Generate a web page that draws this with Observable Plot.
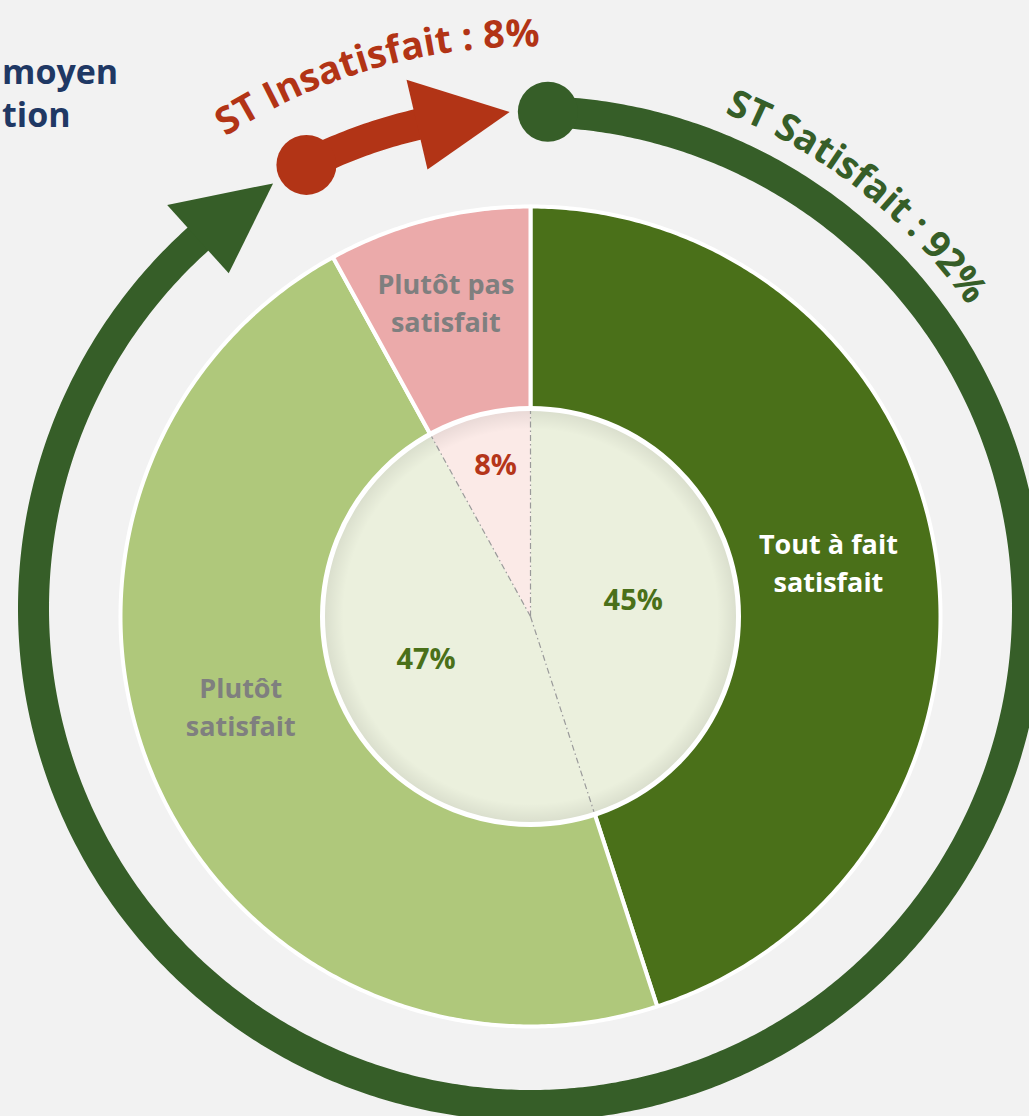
<!DOCTYPE html>
<html><head><meta charset="utf-8">
<script src="https://cdn.jsdelivr.net/npm/d3@7"></script>
<script src="https://cdn.jsdelivr.net/npm/@observablehq/plot@0.6"></script>
<style>
html,body{margin:0;padding:0;background:#F2F2F2;width:1029px;height:1116px;overflow:hidden;}
#wrap{position:relative;width:1029px;height:1116px;}
#wrap svg{position:absolute;left:0;top:0;}
#title{position:absolute;left:2px;top:50px;font:bold 34px "Open Sans";color:#1F3864;line-height:43px;z-index:2;}
</style></head><body><div id="wrap"><div id="title"></div></div>
<script>
// ---- data ----
const categories = ["Tout à fait satisfait", "Plutôt satisfait", "Plutôt pas satisfait"];
const sliceLabels = ["Tout à fait\nsatisfait", "Plutôt\nsatisfait", "Plutôt pas\nsatisfait"];
const values = [45, 47, 8];
const pctLabels = ["45%", "47%", "8%"];
const groups = ["ST Satisfait", "ST Insatisfait"];
const groupValues = [92, 8];
const groupLabels = ["ST Satisfait : 92%", "ST Insatisfait : 8%"];
const titleLines = ["moyen", "tion"];

// ---- layout / style ----
const W = 1029, H = 1116;
const cx = 530, cy = 616, R = 410, R0 = 208;
const rcx = 530, rcy = 608, RR = 497, RW = 31;
const outerColors = ["#4A7019", "#AFC87B", "#EBAAAA"];
const innerColors = ["#EBF0DD", "#EBF0DD", "#FBEAE7"];
const labelColors = ["#FFFFFF", "#7F7F7F", "#7F7F7F"];
const pctColors = ["#4A7019", "#4A7019", "#B5361A"];
const groupColors = ["#365E28", "#B23416"];
const labelR = [303, 303, 327], labelDa = [-1.5, 6.4, -0.6];
const pctR = [104, 113, 155], pctDa = [0, 1, 1.4];
const textMid = [38, 343.7], textSpan = [31, 31], textR = [532, 562];
const FONT = "Open Sans";

document.getElementById("title").innerHTML = titleLines.join("<br>");

const rad = a => a * Math.PI / 180;
const P = (x0, y0, r, a) => ({x: x0 + r * Math.sin(rad(a)), y: y0 - r * Math.cos(rad(a))});
function arcPts(x0, y0, r, a0, a1) {
  const n = Math.max(2, Math.ceil(Math.abs(a1 - a0) / 0.5)), out = [];
  for (let i = 0; i <= n; i++) out.push(P(x0, y0, r, a0 + (a1 - a0) * i / n));
  return out;
}
const wedge = (r, a0, a1) => [{x: cx, y: cy}, ...arcPts(cx, cy, r, a0, a1)];

const total = d3.sum(values);
const bounds = [];
{ let c = 0; for (const v of values) { bounds.push([c / total * 360, (c + v) / total * 360]); c += v; } }
const gTotal = d3.sum(groupValues);
const gBounds = [];
{ let c = 0; for (const v of groupValues) { gBounds.push([c / gTotal * 360, (c + v) / gTotal * 360]); c += v; } }

// ring arrows
const gapStart = 2.0, gapEnd = 2.4, headDeg = 10.8, headHalf = 46;
const ringMarks = [];
groups.forEach((g, i) => {
  const a0 = gBounds[i][0] + gapStart, tip = gBounds[i][1] - gapEnd, base = tip - headDeg;
  ringMarks.push(Plot.line(arcPts(rcx, rcy, RR, a0, base + 0.6), {x: "x", y: "y", stroke: groupColors[i], strokeWidth: RW, curve: "linear"}));
  ringMarks.push(Plot.line([P(rcx, rcy, RR + headHalf, base), P(rcx, rcy, RR, tip), P(rcx, rcy, RR - headHalf, base)],
    {x: "x", y: "y", fill: groupColors[i], stroke: "none", curve: "linear-closed"}));
  ringMarks.push(Plot.dot([P(rcx, rcy, RR, a0)], {x: "x", y: "y", r: 30, fill: groupColors[i], stroke: "none"}));
});

// curved text per character
const ctx = document.createElement("canvas").getContext("2d");
const fsz = 38;
ctx.font = `bold ${fsz}px "${FONT}"`;
const curvedMarks = groupLabels.map((label, i) => {
  const chars = [...label];
  const w = chars.map(ch => ctx.measureText(ch).width);
  const r = textR[i];
  const natural = d3.sum(w) - w[0] / 2 - w[w.length - 1] / 2;
  const target = rad(textSpan[i]) * r;
  const extra = (target - natural) / (chars.length - 1);
  let s = 0;
  const pos = [];
  chars.forEach((ch, k) => {
    if (k > 0) s += w[k - 1] / 2 + w[k] / 2 + extra;
    pos.push(s);
  });
  const data = chars.map((ch, k) => {
    const a = textMid[i] + (pos[k] - target / 2) / r * 180 / Math.PI;
    return {ch, ...P(rcx, rcy, r, a), rot: a};
  }).filter(d => d.ch !== " ");
  return Plot.text(data, {x: "x", y: "y", text: "ch", rotate: "rot", fontSize: fsz, fontWeight: "bold",
    fontFamily: FONT, fill: groupColors[i], lineAnchor: "bottom", textAnchor: "middle"});
});

const defs = () => {
  const d = d3.create("svg:defs");
  const g = d.append("radialGradient").attr("id", "innerShade").attr("cx", "50%").attr("cy", "50%").attr("r", "50%");
  g.append("stop").attr("offset", "0.9").attr("stop-color", "#000").attr("stop-opacity", 0);
  g.append("stop").attr("offset", "1").attr("stop-color", "#000").attr("stop-opacity", 0.08);
  return d.node();
};

const center = [{x: cx, y: cy}];
const labelData = categories.map((c, i) => {
  const m = (bounds[i][0] + bounds[i][1]) / 2;
  return {label: sliceLabels[i], pct: pctLabels[i], color: labelColors[i], pcolor: pctColors[i],
    ...P(cx, cy, labelR[i], m + labelDa[i]),
    px: P(cx, cy, pctR[i], m + pctDa[i]).x, py: P(cx, cy, pctR[i], m + pctDa[i]).y};
});

const svg = Plot.plot({
  width: W, height: H, margin: 0,
  x: {domain: [0, W], range: [0, W], axis: null},
  y: {domain: [0, H], range: [0, H], axis: null},
  color: {type: "identity"},
  style: {background: "#F2F2F2", overflow: "visible"},
  marks: [
    defs,
    Plot.dot(center, {x: "x", y: "y", r: R, fill: "#F2F2F2", stroke: "none", ariaLabel: "pie-shadow"}),
    ...categories.map((c, i) => Plot.line(wedge(R, bounds[i][0], bounds[i][1]),
      {x: "x", y: "y", fill: outerColors[i], stroke: "white", strokeWidth: 4, strokeLinejoin: "round", curve: "linear-closed"})),
    ...categories.map((c, i) => Plot.line(wedge(R0, bounds[i][0], bounds[i][1]),
      {x: "x", y: "y", fill: innerColors[i], stroke: "none", curve: "linear-closed"})),
    Plot.dot(center, {x: "x", y: "y", r: R0, fill: "url(#innerShade)", stroke: "none"}),
    Plot.link(bounds.map(b => ({b: b[0], ...P(cx, cy, R0, b[0])})), {x1: () => cx, y1: () => cy, x2: "x", y2: "y",
      stroke: "#9A9A9A", strokeWidth: 1.2, strokeDasharray: "6 3 1.5 3"}),
    Plot.dot(center, {x: "x", y: "y", r: R0, fill: "none", stroke: "white", strokeWidth: 5}),
    Plot.text(labelData, {x: "x", y: "y", text: "label", fill: "color", fontSize: 27, fontWeight: "bold",
      fontFamily: FONT, lineHeight: 1.4, lineAnchor: "middle"}),
    Plot.text(labelData, {x: "px", y: "py", text: "pct", fill: "pcolor", fontSize: 29, fontWeight: "bold",
      fontFamily: FONT, lineAnchor: "middle"}),
    ...ringMarks,
    ...curvedMarks
  ]
});
const sh = svg.querySelector('[aria-label="pie-shadow"]');
if (sh) sh.style.filter = "drop-shadow(2px 5px 9px rgba(0,0,0,0.25))";
document.getElementById("wrap").appendChild(svg);
</script></body></html>
